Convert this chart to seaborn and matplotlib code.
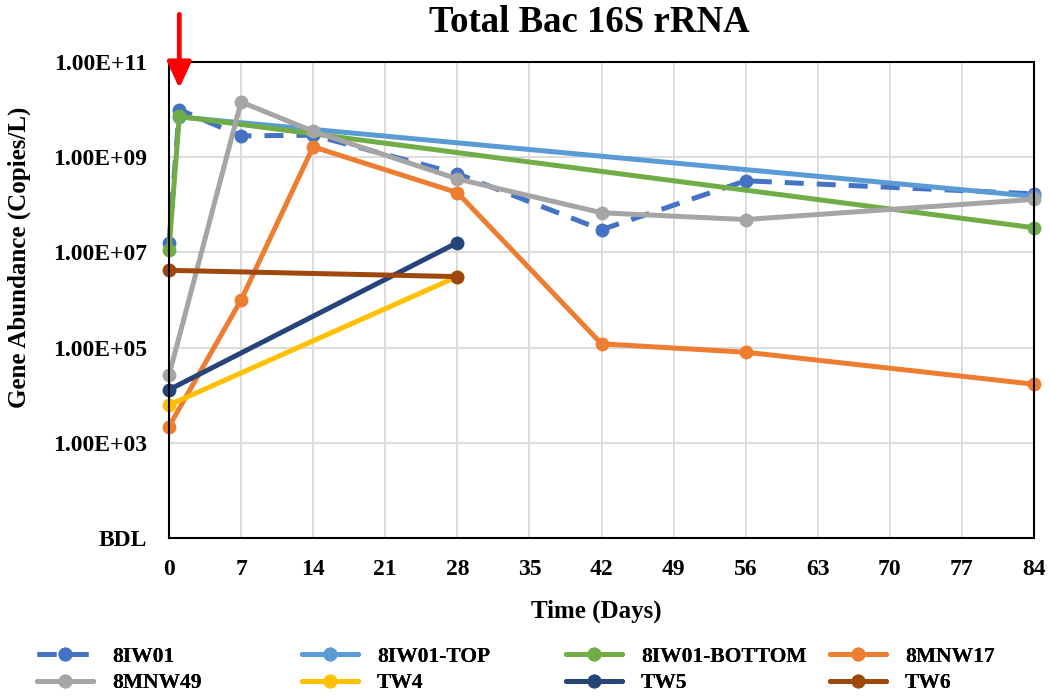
import matplotlib
matplotlib.use("Agg")
import matplotlib.pyplot as plt
import seaborn as sns
import pandas as pd

# Sampling days and 16S gene abundance (copies/L) for each well
iw01_days = [0, 1, 7, 14, 28, 42, 56, 84]
iw01_vals = [1.6e7, 1.0e10, 2.8e9, 2.9e9, 4.5e8, 3.0e7, 3.2e8, 1.7e8]

iw01_top_days = [1, 84]
iw01_top_vals = [7.0e9, 1.5e8]

iw01_bottom_days = [0, 1, 84]
iw01_bottom_vals = [1.15e7, 7.2e9, 3.3e7]

mnw17_days = [0, 7, 14, 28, 42, 56, 84]
mnw17_vals = [2.2e3, 1.0e6, 1.65e9, 1.8e8, 1.2e5, 8.0e4, 1.7e4]

mnw49_days = [0, 7, 14, 28, 42, 56, 84]
mnw49_vals = [2.6e4, 1.45e10, 3.5e9, 3.5e8, 6.8e7, 4.9e7, 1.3e8]

tw4_days = [0, 28]
tw4_vals = [6.2e3, 3.1e6]

tw5_days = [0, 28]
tw5_vals = [1.3e4, 1.6e7]

tw6_days = [0, 28]
tw6_vals = [4.2e6, 3.1e6]

series_names = ["8IW01", "8IW01-TOP", "8IW01-BOTTOM", "8MNW17",
                "8MNW49", "TW4", "TW5", "TW6"]
series_days = [iw01_days, iw01_top_days, iw01_bottom_days, mnw17_days,
               mnw49_days, tw4_days, tw5_days, tw6_days]
series_vals = [iw01_vals, iw01_top_vals, iw01_bottom_vals, mnw17_vals,
               mnw49_vals, tw4_vals, tw5_vals, tw6_vals]
series_colors = ["#4472C4", "#5B9BD5", "#70AD47", "#ED7D31",
                 "#A5A5A5", "#FFC000", "#264478", "#9E480E"]

x_ticks = list(range(0, 85, 7))
y_ticks = [1e1, 1e3, 1e5, 1e7, 1e9, 1e11]
y_tick_labels = ["BDL", "1.00E+03", "1.00E+05", "1.00E+07", "1.00E+09", "1.00E+11"]

sns.set_theme(style="white")
plt.rcParams["font.family"] = ["Liberation Serif", "DejaVu Serif"]
plt.rcParams["font.weight"] = "bold"
plt.rcParams["text.color"] = "black"
plt.rcParams["axes.labelcolor"] = "black"
plt.rcParams["xtick.color"] = "black"
plt.rcParams["ytick.color"] = "black"

W, H = 1050, 698
fig = plt.figure(figsize=(W / 100, H / 100), dpi=100)
ax = fig.add_axes([169 / W, 1 - 538 / H, (1034 - 169) / W, (538 - 62) / H])

for name, days, vals, color in zip(series_names, series_days, series_vals, series_colors):
    df = pd.DataFrame({"Day": days, "Abundance": vals})
    kw = dict(color=color, marker="o", markersize=10, linewidth=3.6,
              markeredgewidth=0, label=name, sort=False, ax=ax, clip_on=False)
    if name == "8IW01":
        kw["linestyle"] = (0, (3.8, 2.6))
    sns.lineplot(data=df, x="Day", y="Abundance", **kw)

ax.set_yscale("log")
ax.set_ylim(1e1, 1e11)
ax.set_xlim(0, 84)
ax.set_xticks(x_ticks)
ax.set_xticklabels([str(t) for t in x_ticks], fontsize=17, fontweight="bold")
ax.set_yticks(y_ticks)
ax.set_yticklabels(y_tick_labels, fontsize=17, fontweight="bold")
ax.minorticks_off()
ax.tick_params(axis="y", length=0, pad=16)
ax.tick_params(axis="x", length=0, pad=15)

ax.grid(True, color="#D9D9D9", linewidth=1.3)
ax.set_axisbelow(True)
for spine in ax.spines.values():
    spine.set_visible(True)
    spine.set_color("black")
    spine.set_linewidth(1.5)

ax.set_xlabel("Time (Days)", fontsize=18, fontweight="bold")
ax.set_ylabel("Gene Abundance (Copies/L)", fontsize=18, fontweight="bold")
ax.xaxis.set_label_coords(0.494, (538 - 600) / 476)
ax.yaxis.set_label_coords((31 - 169) / 865, (538 - 257) / 476)

fig.text(589 / W, 1 - 22 / H, "Total Bac 16S rRNA", fontsize=26.5,
         fontweight="bold", ha="center", va="center")

# Arrow marking the injection day
ax.annotate("", xy=(1, 2.8e10), xytext=(1, 1.0e12),
            arrowprops=dict(arrowstyle="-|>,head_width=0.6,head_length=1.3",
                            color="#FF0000", lw=3.5, shrinkA=0, shrinkB=0),
            annotation_clip=False)

# Four legend columns, two rows each, laid out left to right
handles, labels = ax.get_legend_handles_labels()
if ax.get_legend():
    ax.get_legend().remove()
col_x = [26, 291, 555, 819]
for c, x0 in enumerate(col_x):
    leg = fig.legend([handles[c], handles[c + 4]], [labels[c], labels[c + 4]],
                     loc="upper left", bbox_to_anchor=(x0 / W, 1 - 636 / H),
                     ncol=1, frameon=False, handlelength=2.6,
                     handletextpad=0.9, labelspacing=0.3, borderpad=0,
                     prop={"weight": "bold", "size": 15.5,
                           "family": ["Liberation Serif", "DejaVu Serif"]})
    fig.add_artist(leg)

fig.savefig("out.png", dpi=100)
